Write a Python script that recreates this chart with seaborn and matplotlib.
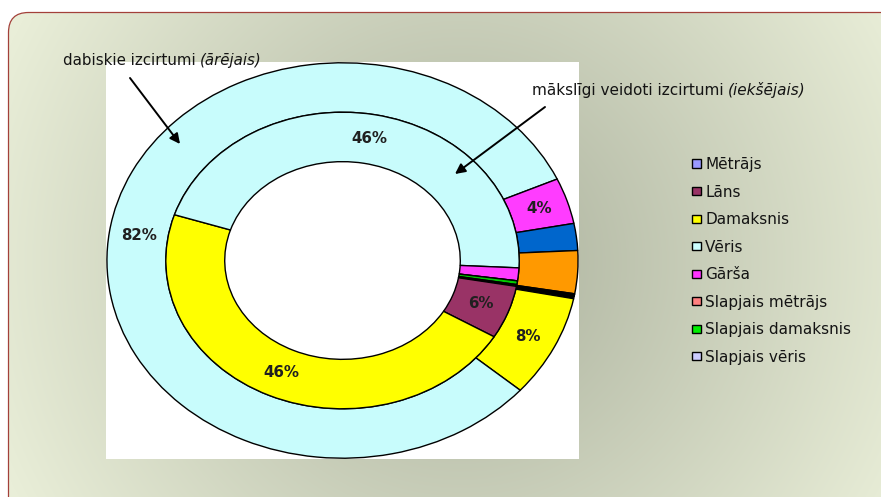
import numpy as np
import matplotlib
matplotlib.use("Agg")
import matplotlib.pyplot as plt
import seaborn as sns
from matplotlib.patches import FancyBboxPatch, Patch

# ---------------- data ----------------
categories = ["Mētrājs", "Lāns", "Damaksnis", "Vēris", "Gārša",
              "Slapjais mētrājs", "Slapjais damaksnis", "Slapjais vēris"]
# outer ring: dabiskie izcirtumi (ārējais)
outer_values = [0.2, 0.2, 8.3, 81.85, 3.75, 2.2, 3.5, 0.0]
# inner ring: mākslīgi veidoti izcirtumi (iekšējais)
inner_values = [0.1, 5.8, 46.4, 45.8, 1.4, 0.0, 0.4, 0.1]
outer_labelled = ["Damaksnis", "Vēris", "Gārša"]
inner_labelled = ["Lāns", "Damaksnis", "Vēris"]
outer_title = "dabiskie izcirtumi "
outer_title_it = "(ārējais)"
inner_title = "mākslīgi veidoti izcirtumi "
inner_title_it = "(iekšējais)"

outer_colors = ["#000000", "#000000", "#FFFF00", "#C8FCFC", "#FF3CFF",
                "#0066CC", "#FF9900", "#C8FCFC"]
inner_colors = ["#9999FF", "#993366", "#FFFF00", "#C8FCFC", "#FF3CFF",
                "#FF8080", "#00CC00", "#CCCCFF"]
legend_colors = ["#9999FF", "#993366", "#FFFF00", "#CCFFFF", "#FF33FF",
                 "#FF8080", "#00EE00", "#CCCCFF"]

# ---------------- style ----------------
sns.set_theme(style="white")
plt.rcParams["font.family"] = ["DejaVu Sans"]
TXT = "#141414"

W, H = 881, 497
fig = plt.figure(figsize=(W / 100, H / 100), dpi=100)
fig.patch.set_facecolor("white")

# background with radial gradient inside a rounded frame
bg = fig.add_axes([0, 0, 1, 1], zorder=-2)
yy, xx = np.mgrid[0:H, 0:W]
d = np.clip(np.hypot(xx - 460, yy - 262) / 500.0, 0, 1)[..., None]
dark = np.array([170, 176, 156]) / 255.0
light = np.array([233, 238, 216]) / 255.0
img = dark + (light - dark) * d
im = bg.imshow(img, extent=(0, W, H, 0), interpolation="bilinear")
bg.set_xlim(0, W)
bg.set_ylim(H, 0)
bg.set_aspect("auto")
bg.axis("off")
frame = FancyBboxPatch((8.5, 12.5), W + 30, H + 30,
                       boxstyle="round,pad=0,rounding_size=20",
                       facecolor="none", edgecolor="#A3403A", lw=0.9)
bg.add_patch(frame)
im.set_clip_path(frame)

# ---------------- donut ----------------
ax = fig.add_axes([106 / W, 1 - 459 / H, 473 / W, 397 / H])
edge = dict(edgecolor="black", linewidth=1.0)
wedges_o, _ = ax.pie(outer_values, radius=1.0, colors=outer_colors,
                     startangle=-9.7, counterclock=False,
                     wedgeprops=dict(width=0.25, **edge))
wedges_i, _ = ax.pie(inner_values, radius=0.75, colors=inner_colors,
                     startangle=-9.7, counterclock=False,
                     wedgeprops=dict(width=0.25, **edge))
ax.set_aspect("auto")
ax.set_xlim(-1.004, 1.004)
ax.set_ylim(-1.004, 1.004)
ax.set_frame_on(True)
for s in ax.spines.values():
    s.set_visible(False)
ax.set_facecolor("white")


def label_ring(wedges, values, labelled, r):
    total = float(sum(values))
    for w, cat, v in zip(wedges, categories, values):
        if cat in labelled:
            ang = np.deg2rad((w.theta1 + w.theta2) / 2.0)
            ax.text(r * np.cos(ang), r * np.sin(ang),
                    f"{v / total * 100:.0f}%", ha="center", va="center",
                    fontsize=10.8, fontweight="bold", color="#202020")


label_ring(wedges_o, outer_values, outer_labelled, 0.875)
label_ring(wedges_i, inner_values, inner_labelled, 0.625)

# ---------------- overlay texts and arrows ----------------
ov = fig.add_axes([0, 0, 1, 1], zorder=5)
ov.set_xlim(0, W)
ov.set_ylim(H, 0)
ov.axis("off")
ov.patch.set_alpha(0)

renderer = fig.canvas.get_renderer()


def two_part(x, y, a, b, fs):
    t = ov.text(x, y, a.rstrip(), fontsize=fs, va="baseline", color=TXT)
    bb = t.get_window_extent(renderer)
    x2 = ov.transData.inverted().transform((bb.x1, bb.y0))[0] + 4.5
    ov.text(x2, y, b, fontsize=fs, va="baseline", style="italic", color=TXT)


two_part(63, 65, outer_title, outer_title_it, 10.8)
two_part(532, 95.5, inner_title, inner_title_it, 11.0)

arrow = dict(arrowstyle="-|>", color="black", lw=1.4, mutation_scale=15,
             shrinkA=0, shrinkB=0)
ov.annotate("", xy=(180, 144), xytext=(130, 78), arrowprops=arrow)
ov.annotate("", xy=(455, 174), xytext=(545, 107), arrowprops=arrow)

# ---------------- legend ----------------
handles = [Patch(facecolor=c, edgecolor="black", linewidth=1.0)
           for c in legend_colors]
fig.legend(handles, categories, loc="upper left",
           bbox_to_anchor=(692 / W, 1 - 157 / H), frameon=False,
           fontsize=11, handlelength=0.62, handleheight=0.45,
           handletextpad=0.25, labelspacing=0.82, borderpad=0,
           borderaxespad=0, labelcolor=TXT)

fig.savefig("out.png", dpi=100)
